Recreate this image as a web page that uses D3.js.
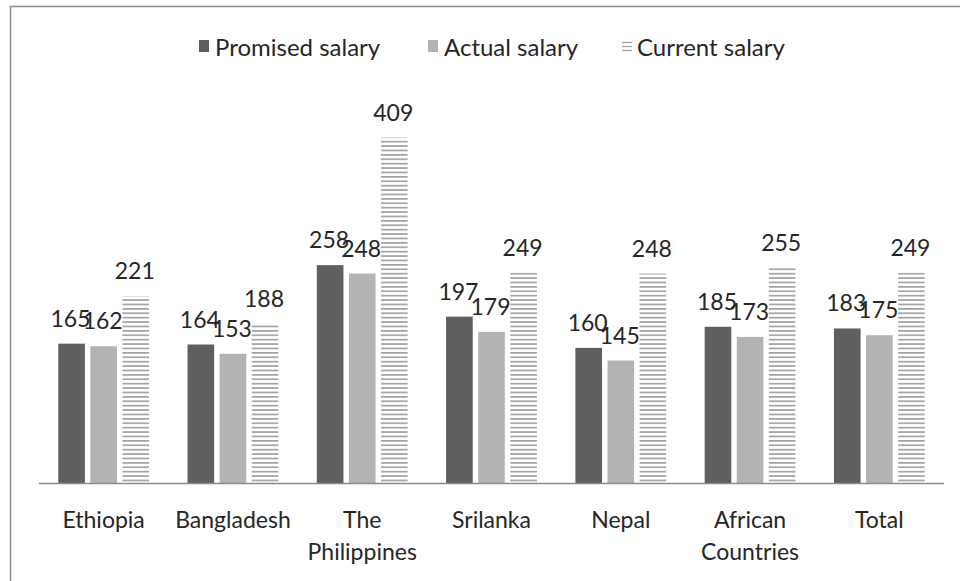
<!DOCTYPE html>
<html>
<head>
<meta charset="utf-8">
<script src="https://cdn.jsdelivr.net/npm/d3@7"></script>
<style>
  body { margin: 0; background: #fff; }
  text { font-family: "Liberation Sans Narrow", Lato, "Open Sans", sans-serif; fill: #262626; }
</style>
</head>
<body>
<svg id="chart" width="960" height="581"></svg>
<script>
// chart data
const categories = [['Ethiopia'], ['Bangladesh'], ['The', 'Philippines'], ['Srilanka'], ['Nepal'], ['African', 'Countries'], ['Total']];
const seriesNames = ['Promised salary', 'Actual salary', 'Current salary'];
const promised = [165, 164, 258, 197, 160, 185, 183];
const actual = [162, 153, 248, 179, 145, 173, 175];
const current = [221, 188, 409, 249, 248, 255, 249];

const width = 960, height = 581;
const baseY = 483;

const svg = d3.select('#chart');

// hatch pattern for current salary
const defs = svg.append('defs');
const pat = defs.append('pattern')
  .attr('id', 'hatch')
  .attr('patternUnits', 'userSpaceOnUse')
  .attr('width', 8)
  .attr('height', 4.4);
pat.append('rect').attr('width', 8).attr('height', 4.4).attr('fill', '#fff');
pat.append('rect').attr('y', 0).attr('width', 8).attr('height', 1.7).attr('fill', '#a3a3a3');

// frame
svg.append('rect')
  .attr('x', 10.5).attr('y', 6.5)
  .attr('width', 1000).attr('height', 700)
  .attr('fill', '#fff')
  .attr('stroke', '#8c8c8c')
  .attr('stroke-width', 1.5);

const keys = categories.map(c => c.join(' '));

const x0 = d3.scaleBand().domain(keys).range([39, 944]);
const x1 = d3.scaleBand().domain(seriesNames).range([0, x0.bandwidth()])
  .paddingInner(0.17).paddingOuter(0.6);
const y = d3.scaleLinear().domain([0, 450]).range([baseY, 103]);

const colors = { 'Promised salary': '#5f5f5f', 'Actual salary': '#b3b3b3', 'Current salary': 'url(#hatch)' };
const valuesBySeries = { 'Promised salary': promised, 'Actual salary': actual, 'Current salary': current };

const rows = [];
seriesNames.forEach(s => {
  valuesBySeries[s].forEach((v, i) => rows.push({ series: s, cat: keys[i], value: v }));
});

// bars
svg.append('g')
  .selectAll('rect')
  .data(rows)
  .join('rect')
  .attr('x', d => x0(d.cat) + x1(d.series))
  .attr('y', d => y(d.value))
  .attr('width', x1.bandwidth())
  .attr('height', d => y(0) - y(d.value))
  .attr('fill', d => colors[d.series]);

// axis line
svg.append('line')
  .attr('x1', x0.range()[0]).attr('x2', x0.range()[1])
  .attr('y1', baseY + 0.5).attr('y2', baseY + 0.5)
  .attr('stroke', '#8c8c8c').attr('stroke-width', 1.5);

// value labels
svg.append('g')
  .selectAll('text')
  .data(rows)
  .join('text')
  .attr('x', d => x0(d.cat) + x1(d.series) + x1.bandwidth() / 2 - 1)
  .attr('y', d => y(d.value) - 17)
  .attr('text-anchor', 'middle')
  .style('font-size', '23px')
  .text(d => d.value);

// category labels
const catG = svg.append('g')
  .selectAll('text')
  .data(categories)
  .join('text')
  .attr('x', (d, i) => x0(keys[i]) + x0.bandwidth() / 2)
  .attr('y', 528)
  .attr('text-anchor', 'middle')
  .style('font-size', '23px');
catG.selectAll('tspan')
  .data(d => d)
  .join('tspan')
  .attr('x', function () { return d3.select(this.parentNode).attr('x'); })
  .attr('dy', (d, i) => i === 0 ? 0 : 32)
  .text(d => d);

// legend
const legendItems = [
  { name: 'Promised salary', x: 199 },
  { name: 'Actual salary', x: 428 },
  { name: 'Current salary', x: 622 }
];
const lg = svg.append('g')
  .selectAll('g')
  .data(legendItems)
  .join('g')
  .attr('transform', d => `translate(${d.x},0)`);
lg.filter(d => d.name !== 'Current salary')
  .append('rect')
  .attr('x', 0).attr('y', 40)
  .attr('width', 10).attr('height', 12)
  .attr('fill', d => colors[d.name]);
lg.filter(d => d.name === 'Current salary')
  .selectAll('line')
  .data([0, 1, 2])
  .join('line')
  .attr('x1', 0).attr('x2', 10)
  .attr('y1', k => 42.5 + k * 4).attr('y2', k => 42.5 + k * 4)
  .attr('stroke', '#a3a3a3').attr('stroke-width', 1.3);
lg.append('text')
  .attr('x', d => d.name === 'Current salary' ? 15 : 16)
  .attr('y', 56)
  .style('font-size', '24px')
  .text(d => d.name);
</script>
</body>
</html>
